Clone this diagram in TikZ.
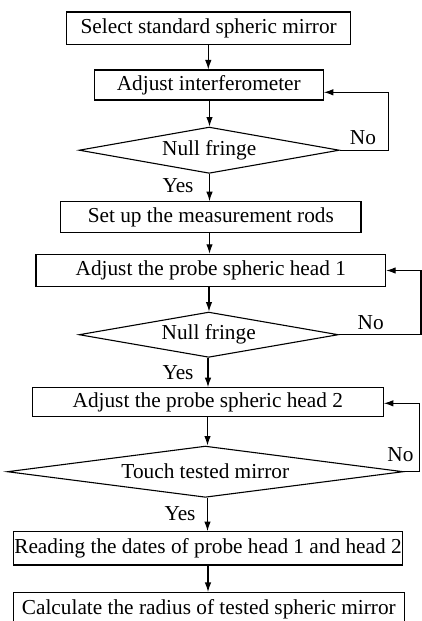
\documentclass[tikz,border=0pt]{standalone}
\usepackage{fontspec}
\setmainfont{Liberation Serif}
\usetikzlibrary{shapes.geometric,arrows.meta}
\tikzset{
  base/.style={draw, line width=1.1pt, inner sep=0pt, font=\fontsize{21.3}{25}\selectfont},
  procbox/.style={base, rectangle},
  decbox/.style={base, diamond, aspect=5},
  lbl/.style={inner sep=0pt, font=\fontsize{21.3}{25}\selectfont},
  arr/.style={line width=1.1pt, -{Latex[length=9.5pt,width=6.5pt]}},
}
\begin{document}
\begin{tikzpicture}[x=1pt,y=-1pt]
\useasboundingbox (0,0) rectangle (422,621);
\fill[white] (0,0) rectangle (422,621);
\clip (0,0) rectangle (422,621);
\node[procbox, minimum width=284pt, minimum height=32.7pt] (b1) at (208.7,28.3) {Select standard spheric mirror};
\node[procbox, minimum width=229pt, minimum height=30pt] (b2) at (208.8,85) {Adjust interferometer};
\node[decbox, minimum width=260.3pt, minimum height=46.3pt] (d1) at (209.2,150.2) {Null fringe};
\node[procbox, minimum width=300.3pt, minimum height=31pt] (b3) at (210.8,217.2) {Set up the measurement rods};
\node[procbox, minimum width=349.7pt, minimum height=32.4pt] (b4) at (210.8,270.5) {Adjust the probe spheric head 1};
\node[decbox, minimum width=259.3pt, minimum height=45.3pt] (d2) at (208.7,334.7) {Null fringe};
\node[procbox, minimum width=351pt, minimum height=29pt] (b5) at (207.8,402.2) {Adjust the probe spheric head 2};
\node[decbox, minimum width=396pt, minimum height=51.3pt] (d3) at (205.3,471.7) {Touch tested mirror};
\node[procbox, minimum width=389.4pt, minimum height=33.3pt] (b6) at (208,548.3) {Reading the dates of probe head 1 and head 2};
\node[procbox, minimum width=391pt, minimum height=33pt] (b7) at (208.8,609) {Calculate the radius of tested spheric mirror};

\node[lbl] (n1) at (363,137.7) {No};
\node[lbl] (n2) at (370.7,322.3) {No};
\node[lbl] (n3) at (400.5,455) {No};
\node[lbl] (y1) at (178,186) {Yes};
\node[lbl] (y2) at (178,372.7) {Yes};
\node[lbl] (y3) at (180,513.3) {Yes};

\draw[arr] (208.3,0 |- b1.south) -- (208.3,0 |- b2.north);
\draw[arr] (209.5,0 |- b2.south) -- (209.5,0 |- d1.north);
\draw[arr] (209.5,0 |- d1.south) -- (209.5,0 |- b3.north);
\draw[arr] (209.5,0 |- b3.south) -- (209.5,0 |- b4.north);
\draw[arr] (209,0 |- b4.south) -- (209,0 |- d2.north);
\draw[arr] (208,0 |- d2.south) -- (208,0 |- b5.north);
\draw[arr] (207.5,0 |- b5.south) -- (207.5,0 |- d3.north);
\draw[arr] (207.5,0 |- d3.south) -- (207.5,0 |- b6.north);
\draw[arr] (208,0 |- b6.south) -- (208,0 |- b7.north);

\coordinate (l1) at (388.3,92.3);
\coordinate (l2) at (421,270.5);
\coordinate (l3) at (419.5,403.3);
\draw[arr] (d1.east) -| (l1) -- (b2.east |- l1);
\draw[arr] (d2.east) -| (l2) -- (b4.east |- l2);
\draw[arr] (d3.east) -| (l3) -- (b5.east |- l3);
\end{tikzpicture}
\end{document}
